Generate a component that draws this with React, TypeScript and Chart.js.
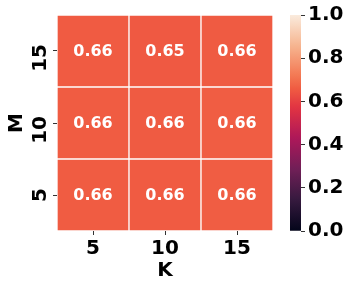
import React, { useEffect, useRef } from "react";
import { Chart, registerables } from "chart.js";

Chart.register(...registerables);

const kLabels = ["5", "10", "15"];
const mLabels = ["5", "10", "15"]; // bottom to top
// values per row, rows follow mLabels (bottom to top), columns follow kLabels
const rowM5 = [0.659, 0.658, 0.662];
const rowM10 = [0.659, 0.657, 0.662];
const rowM15 = [0.658, 0.653, 0.657];
const rows = [rowM5, rowM10, rowM15];
const colorbarTicks = [0, 0.2, 0.4, 0.6, 0.8, 1.0];

const rocketStops: [number, number[]][] = [
  [0.0, [3, 5, 26]],
  [0.143, [53, 25, 62]],
  [0.286, [112, 31, 87]],
  [0.429, [173, 23, 89]],
  [0.571, [225, 51, 66]],
  [0.66, [240, 92, 66]],
  [0.714, [243, 118, 81]],
  [0.857, [246, 180, 143]],
  [1.0, [250, 235, 221]],
];

function rocket(v: number): string {
  for (let i = 1; i < rocketStops.length; i++) {
    const [p1, c1] = rocketStops[i];
    const [p0, c0] = rocketStops[i - 1];
    if (v <= p1) {
      const t = (v - p0) / (p1 - p0);
      const c = c0.map((a, j) => Math.round(a + (c1[j] - a) * t));
      return `rgb(${c[0]},${c[1]},${c[2]})`;
    }
  }
  const c = rocketStops[rocketStops.length - 1][1];
  return `rgb(${c[0]},${c[1]},${c[2]})`;
}

const FONT = "'DejaVu Sans', sans-serif";

const cellLabels = {
  id: "cellLabels",
  afterDatasetsDraw(chart: any) {
    const ctx = chart.ctx;
    ctx.save();
    ctx.font = `bold 16px ${FONT}`;
    ctx.fillStyle = "#ffffff";
    ctx.textAlign = "center";
    ctx.textBaseline = "middle";
    chart.data.datasets.forEach((ds: any, di: number) => {
      const meta = chart.getDatasetMeta(di);
      meta.data.forEach((el: any, i: number) => {
        const p = el.getCenterPoint();
        ctx.fillText(ds.values[i].toFixed(2), p.x, p.y + 1);
      });
    });
    ctx.restore();
  },
};

const zeroPad = (s: any) => {
  s.paddingTop = 0;
  s.paddingBottom = 0;
  s.paddingLeft = 0;
  s.paddingRight = 0;
};

function Heatmap() {
  const ref = useRef<HTMLCanvasElement>(null);
  useEffect(() => {
    const chart = new Chart(ref.current!, {
      type: "bar",
      data: {
        labels: kLabels,
        datasets: rows.map((r, i) => ({
          label: mLabels[i],
          data: r.map(() => 1),
          values: r,
          backgroundColor: r.map((v) => rocket(v)),
          borderColor: "#ffffff",
          borderWidth: 1,
          borderSkipped: false,
          barPercentage: 1,
          categoryPercentage: 1,
        })) as any,
      },
      options: {
        animation: false,
        responsive: true,
        maintainAspectRatio: false,
        layout: { padding: { top: 15, right: 12, left: 0, bottom: 0 } },
        plugins: { legend: { display: false }, tooltip: { enabled: false } },
        scales: {
          x: {
            stacked: true,
            grid: { display: true, drawOnChartArea: false, offset: false, tickLength: 4, color: "#333" },
            border: { display: false },
            ticks: { color: "#000", font: { family: FONT, size: 20, weight: "bold" }, padding: 2 },
            title: { display: true, text: "K", color: "#000", font: { family: FONT, size: 20, weight: "bold" }, padding: { top: 0, bottom: 5 } },
            afterFit: (s: any) => { s.height = 57; zeroPad(s); },
          },
          y: {
            stacked: true,
            min: 0,
            max: 3,
            afterBuildTicks: (s: any) => { s.ticks = mLabels.map((_, i) => ({ value: i + 0.5 })); },
            grid: { display: true, drawOnChartArea: false, tickLength: 4, color: "#333" },
            border: { display: false },
            ticks: {
              color: "#000",
              font: { family: FONT, size: 20, weight: "bold" },
              minRotation: 90,
              maxRotation: 90,
              padding: 12,
              labelOffset: -7,
              callback: (v: any) => mLabels[Math.floor(Number(v))],
            },
            title: { display: true, text: "M", color: "#000", font: { family: FONT, size: 20, weight: "bold" }, padding: { top: 5, bottom: 0 } },
            afterFit: (s: any) => { s.width = 57; zeroPad(s); },
          },
        },
      } as any,
      plugins: [cellLabels],
    });
    return () => chart.destroy();
  }, []);
  return <canvas ref={ref} />;
}

function Colorbar() {
  const ref = useRef<HTMLCanvasElement>(null);
  useEffect(() => {
    const chart = new Chart(ref.current!, {
      type: "bar",
      data: {
        labels: ["cb"],
        datasets: [
          {
            data: [[colorbarTicks[0], colorbarTicks[colorbarTicks.length - 1]]],
            backgroundColor: (c: any) => {
              const area = c.chart.chartArea;
              if (!area) return rocket(0.5);
              const g = c.chart.ctx.createLinearGradient(0, area.bottom, 0, area.top);
              for (let i = 0; i <= 50; i++) g.addColorStop(i / 50, rocket(i / 50));
              return g;
            },
            borderWidth: 0,
            barPercentage: 1,
            categoryPercentage: 1,
          } as any,
        ],
      },
      options: {
        animation: false,
        responsive: true,
        maintainAspectRatio: false,
        layout: { padding: { top: 15, right: 0, left: 10, bottom: 57 } },
        plugins: { legend: { display: false }, tooltip: { enabled: false } },
        scales: {
          x: { display: false },
          y: {
            position: "right",
            min: 0,
            max: 1,
            afterBuildTicks: (s: any) => { s.ticks = colorbarTicks.map((v) => ({ value: v })); },
            grid: { display: true, drawOnChartArea: false, tickLength: 4, color: "#333" },
            border: { display: false },
            ticks: {
              color: "#000",
              font: { family: FONT, size: 20, weight: "bold" },
              padding: 3,
              callback: (v: any) => Number(v).toFixed(1),
            },
            afterFit: (s: any) => { s.width = 49; zeroPad(s); },
          },
        },
      } as any,
    });
    return () => chart.destroy();
  }, []);
  return <canvas ref={ref} />;
}

export default function App() {
  return (
    <div style={{ position: "fixed", left: 0, top: 0, width: 350, height: 288, background: "#fff" }}>
      <div style={{ position: "absolute", left: 0, top: 0, width: 285, height: 288 }}>
        <Heatmap />
      </div>
      <div style={{ position: "absolute", left: 280, top: 0, width: 70, height: 288 }}>
        <Colorbar />
      </div>
    </div>
  );
}
